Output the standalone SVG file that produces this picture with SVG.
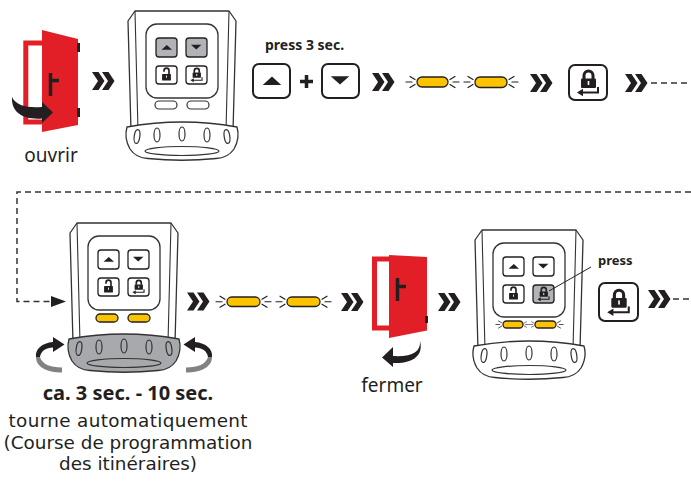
<svg xmlns="http://www.w3.org/2000/svg" width="691" height="481" viewBox="0 0 691 481">
<style>
  text{font-family:"Noto Sans","Open Sans","DejaVu Sans",sans-serif;fill:#231f20}
  .b{font-weight:bold}
  .cap{font-family:"DejaVu Sans","Noto Sans",sans-serif;font-size:18.4px}
  .shell{fill:#fff;stroke:#333;stroke-width:1.3;stroke-linejoin:round}
  .thin{fill:none;stroke:#333;stroke-width:1.1}
  .key{fill:#fff;stroke:#231f20;stroke-width:1.3}
  .key-g{fill:#b1b3b6;stroke:#231f20;stroke-width:1.3}
  .bigkey{fill:#fff;stroke:#231f20;stroke-width:2}
  .led{fill:#fff;stroke:#333;stroke-width:1.2}
  .led-on{fill:#fcc400;stroke:#231f20;stroke-width:1.3}
  .dash{fill:none;stroke:#333;stroke-width:1.5;stroke-dasharray:6 4}
  .red{fill:#e21f26}
  .ink{fill:#231f20}
</style>
<defs>
  <!-- double chevron, left edge at x=0, centred on y=0 -->
  <path id="chev" d="M0,-9 H6.5 L12.5,0 L6.5,9 H0 L6,0 Z M10,-9 H16.5 L22.5,0 L16.5,9 H10 L16,0 Z" fill="#231f20"/>
  <!-- blink rays on the left / right end of an LED -->
  <path id="spark-l" d="M-2,-2.5 L-7,-5.5 M-5,0 H-11 M-2,2.5 L-7,5.5" fill="none" stroke="#231f20" stroke-width="1.2" stroke-linecap="round"/>
  <path id="spark-r" d="M2,-2.5 L7,-5.5 M5,0 H11 M2,2.5 L7,5.5" fill="none" stroke="#231f20" stroke-width="1.2" stroke-linecap="round"/>
  <symbol id="tri-up" viewBox="0 0 38 34"><path d="M10,21 L19.5,12.5 L29,21 Z" fill="#231f20"/></symbol>
  <symbol id="tri-down" viewBox="0 0 38 34"><path d="M9,12 L28,12 L18.5,20.5 Z" fill="#231f20"/></symbol>
  <symbol id="lock-ret" viewBox="0 0 38 36">
    <path d="M15,14 V10.5 A4.5,4.5 0 0 1 24,10.5 V14" fill="none" stroke="#231f20" stroke-width="3"/>
    <rect x="12" y="13.5" width="15" height="9.5" rx="1" fill="#231f20"/>
    <rect x="18.7" y="16" width="1.6" height="4" fill="#fff"/>
    <path d="M29,22 V27.5 H13" fill="none" stroke="#231f20" stroke-width="2"/>
    <path d="M8,27.5 L14,23.8 V31.2 Z" fill="#231f20"/>
  </symbol>
  <symbol id="lock-open" viewBox="0 0 38 36">
    <path d="M14.5,12 V10 A4.5,4.5 0 0 1 23.5,10 V17" fill="none" stroke="#231f20" stroke-width="3"/>
    <rect x="11" y="16" width="16" height="12" rx="1" fill="#231f20"/>
    <rect x="18.2" y="19" width="1.6" height="4" fill="#fff"/>
  </symbol>
  <!-- hand transmitter housing, local coordinates -->
  <g id="shell">
    <path class="shell" d="M7,0 H101 L108,10 L105,120 H3 L0,10 Z"/>
    <path class="thin" d="M7,0 L10,120 M101,0 L98,120"/>
    <rect class="shell" x="18" y="13" width="72" height="74" rx="11"/>
  </g>
  <path id="ring" d="M-1,116 Q54,106 109,116 C111,123 110,131 106,138 Q100,147 88,147.5 Q54,151 20,147.5 Q8,147 2,138 C-2,131 -3,123 -1,116 Z" stroke="#333" stroke-width="1.3"/>
  <g id="ring-detail" fill="none" stroke="#333" stroke-width="1.2">
    <ellipse cx="54" cy="140" rx="37" ry="4.5"/>
    <ellipse cx="9" cy="125.5" rx="2.8" ry="7" transform="rotate(8 9 125.5)"/>
    <ellipse cx="29" cy="124" rx="3" ry="7"/>
    <ellipse cx="54" cy="123" rx="3" ry="7"/>
    <ellipse cx="79" cy="124" rx="3" ry="7"/>
    <ellipse cx="99" cy="125.5" rx="2.8" ry="7" transform="rotate(-8 99 125.5)"/>
  </g>
</defs>

<!-- step 1: open the door -->
<g id="door-open">
  <rect x="25.8" y="43" width="20" height="79" fill="#fff" stroke="#e21f26" stroke-width="5"/>
  <path class="red" d="M42,30 L78,39 V125 L42,132 Z"/>
  <rect class="ink" x="77" y="43" width="3" height="9"/>
  <rect class="ink" x="77" y="108" width="3" height="9"/>
  <path d="M50.5,73 V96 M50.5,80.5 H59" stroke="#231f20" stroke-width="3.5" fill="none"/>
  <path class="ink" d="M12,97 C16,106 28,108 42,107 L42,102 L53,112.5 L42,123 L42,118.5 C24,120 11,113 12,97 Z"/>
  <text x="51" y="162" font-size="19" text-anchor="middle">ouvrir</text>
</g>

<!-- transmitter 1 -->
<g id="remote-1" transform="translate(128,11)">
  <use href="#shell"/>
  <rect class="key-g" x="28" y="27" width="21" height="19" rx="3"/>
  <rect class="key-g" x="58" y="27" width="21" height="19" rx="3"/>
  <rect class="key" x="28" y="55" width="21" height="18" rx="3"/>
  <rect class="key" x="58" y="55" width="21" height="18" rx="3"/>
  <use href="#tri-up" x="28" y="27" width="21" height="19"/>
  <use href="#tri-down" x="58" y="27" width="21" height="19"/>
  <use href="#lock-open" x="28" y="54" width="21" height="20"/>
  <use href="#lock-ret" x="58" y="54" width="21" height="20"/>
  <rect class="led" x="27" y="90" width="22" height="8" rx="4"/>
  <rect class="led" x="59" y="90" width="22" height="8" rx="4"/>
  <use href="#ring" fill="#fff"/>
  <use href="#ring-detail"/>
</g>

<!-- step: press up + down for 3 s -->
<g id="press-updown">
  <text class="b" x="265" y="50" font-size="14">press 3 sec.</text>
  <rect class="bigkey" x="253" y="64" width="37" height="34" rx="6"/>
  <use href="#tri-up" x="253" y="64" width="37" height="34"/>
  <path d="M306.5,75 V88 M300,81.5 H313" stroke="#231f20" stroke-width="3.5" fill="none"/>
  <rect class="bigkey" x="322" y="64" width="37" height="34" rx="6"/>
  <use href="#tri-down" x="322" y="64" width="37" height="34"/>
</g>

<!-- LEDs blinking -->
<g id="blink-1">
  <rect class="led-on" x="417" y="77" width="31" height="10" rx="5"/>
  <rect class="led-on" x="475" y="77" width="32" height="10.5" rx="5"/>
  <use href="#spark-l" x="417" y="82"/>
  <use href="#spark-r" x="448" y="82"/>
  <use href="#spark-l" x="475" y="82"/>
  <use href="#spark-r" x="507" y="82"/>
</g>

<!-- lock / return key -->
<g id="key-lock-1">
  <rect class="bigkey" x="569" y="65" width="38" height="35" rx="6"/>
  <use href="#lock-ret" x="569" y="65" width="38" height="36"/>
</g>

<!-- transmitter 2: automatic travel learning -->
<g id="remote-2" transform="translate(70,223)">
  <use href="#shell"/>
  <rect class="key" x="28" y="27" width="21" height="19" rx="3"/>
  <rect class="key" x="58" y="27" width="21" height="19" rx="3"/>
  <rect class="key" x="28" y="55" width="21" height="18" rx="3"/>
  <rect class="key" x="58" y="55" width="21" height="18" rx="3"/>
  <use href="#tri-up" x="28" y="27" width="21" height="19"/>
  <use href="#tri-down" x="58" y="27" width="21" height="19"/>
  <use href="#lock-open" x="28" y="54" width="21" height="20"/>
  <use href="#lock-ret" x="58" y="54" width="21" height="20"/>
  <rect class="led-on" x="26" y="91" width="22" height="8" rx="4"/>
  <rect class="led-on" x="58" y="91" width="22" height="8" rx="4"/>
  <use href="#ring" fill="#a7a9ac"/>
  <use href="#ring-detail"/>
</g>

<!-- rotation arrows round the knob -->
<g id="rotate">
  <g id="rotate-l">
    <path fill="#808285" d="M36,357 C36,367 47,372.5 62,372.5 L62,367.5 C50,367.5 42,364 40,357 Z"/>
    <path class="ink" d="M36,357 C35,349 42,343 53,342 L53,337 L64.5,344.5 L53,352 L53,347.5 C46,347.5 41,351 40,357 Z"/>
  </g>
  <use href="#rotate-l" transform="translate(248,0) scale(-1,1)"/>
</g>

<g id="caption">
  <text class="b" x="128" y="400" font-size="20" text-anchor="middle">ca. 3 sec. - 10 sec.</text>
  <text class="cap" x="128" y="427" text-anchor="middle" textLength="239" lengthAdjust="spacing">tourne automatiquement</text>
  <text class="cap" x="128" y="448.5" text-anchor="middle">(Course de programmation</text>
  <text class="cap" x="128" y="470" text-anchor="middle">des itinéraires)</text>
</g>

<g id="blink-2">
  <rect class="led-on" x="227" y="297" width="33" height="9.5" rx="4.75"/>
  <rect class="led-on" x="287" y="297" width="33" height="9.5" rx="4.75"/>
  <use href="#spark-l" x="227" y="301.75"/>
  <use href="#spark-r" x="260" y="301.75"/>
  <use href="#spark-l" x="287" y="301.75"/>
  <use href="#spark-r" x="320" y="301.75"/>
</g>

<!-- door closes -->
<g id="door-close">
  <rect x="374.5" y="259" width="20" height="69" fill="#fff" stroke="#e21f26" stroke-width="5"/>
  <path class="red" d="M389,255 L427,257 V330.5 L389,338 Z"/>
  <rect class="ink" x="425" y="316" width="3" height="7"/>
  <path d="M397.5,278 V301 M397.5,286.5 H406" stroke="#231f20" stroke-width="3.5" fill="none"/>
  <path class="ink" d="M420,341 C421,352 412,357 393,356 L393,347 L382,357.5 L393,367 L393,363 C412,364 424,356 420,341 Z"/>
  <text x="392" y="392" font-size="19" text-anchor="middle">fermer</text>
</g>

<!-- transmitter 3: confirm with lock key -->
<g id="remote-3" transform="translate(475,230)">
  <use href="#shell"/>
  <rect class="key" x="28" y="27" width="21" height="19" rx="3"/>
  <rect class="key" x="58" y="27" width="21" height="19" rx="3"/>
  <rect class="key" x="28" y="55" width="21" height="18" rx="3"/>
  <rect class="key-g" x="58" y="55" width="21" height="18" rx="3"/>
  <use href="#tri-up" x="28" y="27" width="21" height="19"/>
  <use href="#tri-down" x="58" y="27" width="21" height="19"/>
  <use href="#lock-open" x="28" y="54" width="21" height="20"/>
  <use href="#lock-ret" x="58" y="54" width="21" height="20"/>
  <rect class="led-on" x="28" y="91" width="20" height="7" rx="3.5"/>
  <rect class="led-on" x="60" y="91" width="21" height="7" rx="3.5"/>
  <use href="#spark-l" transform="translate(28,94.5) scale(0.65)"/>
  <use href="#spark-r" transform="translate(48,94.5) scale(0.5)"/>
  <use href="#spark-l" transform="translate(60,94.5) scale(0.5)"/>
  <use href="#spark-r" transform="translate(81,94.5) scale(0.65)"/>
  <use href="#ring" fill="#fff"/>
  <use href="#ring-detail"/>
  <path d="M74,61 L116,37" stroke="#231f20" stroke-width="1" fill="none"/>
</g>
<text class="b" x="598" y="265" font-size="13">press</text>

<g id="key-lock-2">
  <rect class="bigkey" x="599" y="283" width="39" height="38" rx="6"/>
  <use href="#lock-ret" x="599" y="284" width="39" height="37"/>
</g>

<!-- flow connectors -->
<g id="connectors">
  <use href="#chev" x="92" y="81"/>
  <use href="#chev" x="372" y="82"/>
  <use href="#chev" x="530" y="83"/>
  <use href="#chev" x="625" y="83"/>
  <use href="#chev" x="187" y="301.5"/>
  <use href="#chev" x="341" y="302"/>
  <use href="#chev" x="438" y="302"/>
  <use href="#chev" x="648" y="299"/>
  <path class="dash" d="M651,83 H691"/>
  <path class="dash" d="M691,192 H17 V301.5 H52"/>
  <path class="ink" d="M51,296 L66,301.5 L51,307 Z"/>
  <path class="dash" d="M673,299 H691"/>
</g>
</svg>
